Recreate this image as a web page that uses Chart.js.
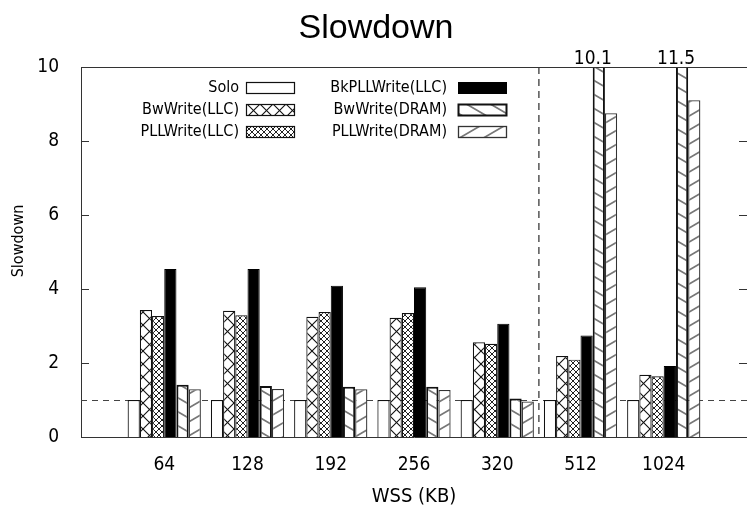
<!DOCTYPE html>
<html>
<head>
<meta charset="utf-8">
<script src="https://cdn.jsdelivr.net/npm/chart.js@4.4.0/dist/chart.umd.min.js"></script>
<style>
  html, body { margin:0; padding:0; background:#fff; }
</style>
</head>
<body>
<canvas id="chart" width="747" height="510"></canvas>
<script>
// ====== data ======
const wss     = ['64','128','192','256','320','512','1024'];
const solo    = [1.00, 1.00, 1.00, 1.00, 1.00, 1.00, 1.00];
const bwLLC   = [3.43, 3.41, 3.25, 3.22, 2.56, 2.19, 1.68];
const pllLLC  = [3.27, 3.29, 3.38, 3.35, 2.52, 2.09, 1.64];
const bkLLC   = [4.54, 4.54, 4.09, 4.05, 3.06, 2.74, 1.92];
const bwDRAM  = [1.41, 1.38, 1.36, 1.36, 1.04, 10.1, 11.5];
const pllDRAM = [1.29, 1.30, 1.29, 1.27, 0.96, 8.75, 9.10];
const yMin = 0, yMax = 10, yStep = 2;
const refLine = 1;

// gnuplot style range: an empty slot on both sides
const pad = a => [null, ...a, null];
const xLabels = ['', ...wss, ''];

const canvas = document.getElementById('chart');
const ctx = canvas.getContext('2d');
const FAM = '"DejaVu Sans Condensed", "DejaVu Sans", sans-serif';

// ====== hatch patterns ======
function makeTile(w, h, draw){
  const t = document.createElement('canvas');
  t.width = w; t.height = h;
  const g = t.getContext('2d');
  g.fillStyle = '#fff'; g.fillRect(0, 0, w, h);
  draw(g, w, h);
  return ctx.createPattern(t, 'repeat');
}
// draw a diagonal in all 9 neighbour offsets so it wraps cleanly
function diag(g, w, h, down, color, lw){
  g.strokeStyle = color; g.lineWidth = lw; g.beginPath();
  for(const dx of [-w,0,w]) for(const dy of [-h,0,h]){
    if(down){ g.moveTo(dx, dy); g.lineTo(dx+w, dy+h); }
    else    { g.moveTo(dx, dy+h); g.lineTo(dx+w, dy); }
  }
  g.stroke();
}
const pBwLLC  = makeTile(13, 13, (g,w,h) => { diag(g,w,h,true,'#111',1.1); diag(g,w,h,false,'#111',1.1); });
const pPllLLC = makeTile(6, 6,   (g,w,h) => { diag(g,w,h,true,'#222',1); diag(g,w,h,false,'#222',1); });
const pBwDRAM = makeTile(24, 14, (g,w,h) => diag(g,w,h,true,'#777',1.7));
const pPllDRAM= makeTile(24, 14, (g,w,h) => diag(g,w,h,false,'#777',1.7));

// ====== plugins ======
const decor = {
  id:'decor',
  beforeDatasetsDraw(chart){
    const {ctx:c, chartArea:a, scales:{x,y}} = chart;
    c.save();
    // y = 1 reference line (behind the bars)
    c.strokeStyle = '#444'; c.lineWidth = 1; c.setLineDash([6,5]);
    const yy = Math.round(y.getPixelForValue(refLine)) + .5;
    c.beginPath(); c.moveTo(a.left, yy); c.lineTo(a.right, yy); c.stroke();
    // separator between 320 and 512
    const xs = (x.getPixelForValue(5) + x.getPixelForValue(6)) / 2;
    c.strokeStyle = '#555'; c.lineWidth = 1.5; c.setLineDash([7,5]);
    c.beginPath(); c.moveTo(xs, a.top); c.lineTo(xs, a.bottom); c.stroke();
    c.restore();
  },
  afterDraw(chart){
    const {ctx:c, chartArea:a, scales:{y}} = chart;
    c.save();
    // top border
    c.strokeStyle = '#333'; c.lineWidth = 1;
    c.beginPath(); c.moveTo(a.left, a.top + .5); c.lineTo(a.right, a.top + .5); c.stroke();
    // inward ticks, both sides
    for(let v = yMin + yStep; v < yMax; v += yStep){
      const yy = Math.round(y.getPixelForValue(v)) + .5;
      c.beginPath();
      c.moveTo(a.left, yy); c.lineTo(a.left + 8, yy);
      c.moveTo(a.right - 8, yy); c.lineTo(a.right, yy);
      c.stroke();
    }
    // title
    c.fillStyle = '#000';
    c.font = '34px "Liberation Sans", Arial, sans-serif';
    c.textAlign = 'center'; c.textBaseline = 'alphabetic';
    c.fillText('Slowdown', 376, 38);
    // y title
    c.save();
    c.translate(19, 241); c.rotate(-Math.PI/2);
    c.font = '16px ' + FAM; c.textBaseline = 'middle';
    c.fillText('Slowdown', 0, 0);
    c.restore();
    // values that run off the top
    c.font = '19px ' + FAM; c.textBaseline = 'alphabetic';
    chart.data.datasets.forEach((ds, di) => {
      const meta = chart.getDatasetMeta(di);
      ds.data.forEach((v, i) => {
        if(v != null && v > yMax){
          c.fillText(String(v), meta.data[i].x - 6, a.top - 3);
        }
      });
    });
    // legend: label then sample, two columns
    c.font = '16px ' + FAM;
    c.textAlign = 'right'; c.textBaseline = 'middle';
    chart.data.datasets.forEach((ds, i) => {
      const col = Math.floor(i / 3), row = i % 3;
      const textRight = [239, 447][col], boxLeft = [246, 458][col];
      const top = 82 + row * 22;
      c.fillStyle = '#000';
      c.fillText(ds.label, textRight, top + 6);
      c.fillStyle = ds.backgroundColor;
      c.fillRect(boxLeft, top, 48, 11);
      c.lineWidth = ds.borderWidth; c.strokeStyle = ds.borderColor;
      c.strokeRect(boxLeft + .5, top + .5, 48, 11);
    });
    c.restore();
  }
};

const tickFont = { family:FAM, size:19 };

new Chart(ctx, {
  type:'bar',
  data:{
    labels:xLabels,
    datasets:[
      { label:'Solo',            data:pad(solo),    backgroundColor:'#fff',   borderColor:'#111', borderWidth:1.2 },
      { label:'BwWrite(LLC)',    data:pad(bwLLC),   backgroundColor:pBwLLC,   borderColor:'#111', borderWidth:1.2 },
      { label:'PLLWrite(LLC)',   data:pad(pllLLC),  backgroundColor:pPllLLC,  borderColor:'#111', borderWidth:1.2 },
      { label:'BkPLLWrite(LLC)', data:pad(bkLLC),   backgroundColor:'#000',   borderColor:'#000', borderWidth:1 },
      { label:'BwWrite(DRAM)',   data:pad(bwDRAM),  backgroundColor:pBwDRAM,  borderColor:'#111', borderWidth:2 },
      { label:'PLLWrite(DRAM)',  data:pad(pllDRAM), backgroundColor:pPllDRAM, borderColor:'#333', borderWidth:1.3 },
    ]
  },
  options:{
    responsive:false,
    animation:false,
    layout:{ padding:{ top:67, right:0, bottom:0, left:0 } },
    datasets:{ bar:{ categoryPercentage:0.88, barPercentage:1 } },
    plugins:{ legend:{ display:false }, tooltip:{ enabled:false } },
    scales:{
      x:{
        offset:false,
        grid:{ display:false },
        border:{ color:'#333', width:1 },
        ticks:{ color:'#000', font:tickFont, padding:9, maxRotation:0, autoSkip:false },
        title:{ display:true, text:'WSS (KB)', color:'#000', font:{ family:FAM, size:20 }, padding:{ top:0, bottom:1 } },
        afterFit:s => { s.height = 73; s.paddingLeft = 0; s.paddingRight = 0; }
      },
      y:{
        min:yMin, max:yMax,
        grid:{ display:false },
        border:{ color:'#333', width:1 },
        ticks:{ stepSize:yStep, color:'#000', font:tickFont, padding:14 },
        afterFit:s => { s.width = 81; s.paddingTop = 0; s.paddingBottom = 0; }
      }
    }
  },
  plugins:[decor]
});
</script>
</body>
</html>
